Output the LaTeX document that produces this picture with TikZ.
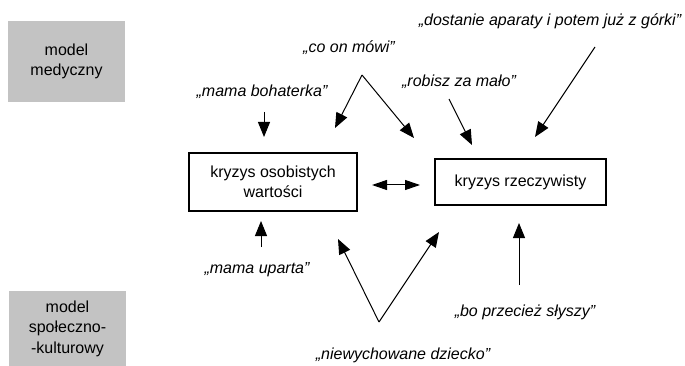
\documentclass[tikz,border=0pt]{standalone}
\usepackage{fontspec}
\setmainfont{Liberation Sans}
\usetikzlibrary{arrows.meta}
\definecolor{boxgray}{RGB}{195,195,195}
\tikzset{
  model/.style={fill=boxgray, draw=none, align=center, inner sep=0pt, font=\fontsize{16}{20.5}\selectfont},
  crisis/.style={draw, line width=1.3pt, align=center, inner sep=0pt, font=\fontsize{16}{20}\selectfont},
  quote/.style={font=\fontsize{16}{20}\selectfont\itshape, inner sep=0pt},
  arr/.style={line width=1pt, -{Triangle[length=15pt,width=12pt]}},
  dblarr/.style={line width=1pt, {Triangle[length=15pt,width=10pt]}-{Triangle[length=15pt,width=10pt]}},
}
\begin{document}
\begin{tikzpicture}[x=1pt,y=-1pt]
\useasboundingbox (0,0) rectangle (685,366);
% model boxes
\node[model, minimum width=117pt, minimum height=81pt] (med) at (66.5,61.5) {model\\medyczny};
\node[model, minimum width=117pt, minimum height=75pt] (spo) at (67.5,328.5) {model\\społeczno-\\-kulturowy};
% crisis boxes
\node[crisis, minimum width=168pt, minimum height=58pt] (osob) at (273,182) {kryzys osobistych\\wartości};
\node[crisis, minimum width=171pt, minimum height=46pt] (rzecz) at (520.5,182) {kryzys rzeczywisty};
% quotes
\node[quote] (bohat) at (262,92) {„mama bohaterka”};
\node[quote] (comowi) at (349,48) {„co on mówi”};
\node[quote] (robisz) at (459,82) {„robisz za mało”};
\node[quote] (dost) at (550,21) {„dostanie aparaty i potem już z górki”};
\node[quote] (uparta) at (257,270) {„mama uparta”};
\node[quote] (niewych) at (403,355) {„niewychowane dziecko”};
\node[quote] (slyszy) at (525,312) {„bo przecież słyszy”};
% arrow end points
\coordinate (bohS) at (264,112); \coordinate (bohE) at (264,137);
\coordinate (apexT) at (362,75); \coordinate (coL) at (335,128); \coordinate (coR) at (414,138);
\coordinate (robS) at (449,99); \coordinate (robE) at (472,145);
\coordinate (dosS) at (595,47); \coordinate (dosE) at (535,137);
\coordinate (upS) at (261,247); \coordinate (upE) at (261,221);
\coordinate (apexB) at (379,322); \coordinate (niL) at (338,239); \coordinate (niR) at (439,232);
\coordinate (slS) at (519,285); \coordinate (slE) at (519,223);
\coordinate (dA) at (372,185); \coordinate (dB) at (420,185);
% arrows
\draw[arr] (bohS) -- (bohE);
\draw[arr] (apexT) -- (coL);
\draw[arr] (apexT) -- (coR);
\draw[arr] (robS) -- (robE);
\draw[arr] (dosS) -- (dosE);
\draw[arr] (upS) -- (upE);
\draw[arr] (apexB) -- (niL);
\draw[arr] (apexB) -- (niR);
\draw[arr] (slS) -- (slE);
\draw[dblarr] (dA) -- (dB);
\end{tikzpicture}
\end{document}
